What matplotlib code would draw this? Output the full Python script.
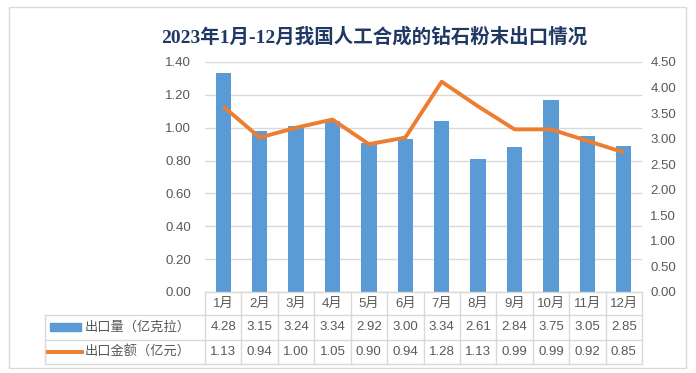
import matplotlib.pyplot as plt
import numpy as np
from matplotlib.lines import Line2D
from matplotlib.patches import Rectangle
import matplotlib.transforms as mtransforms

plt.rcParams['font.family'] = ['Liberation Sans', 'Noto Sans CJK SC', 'DejaVu Sans']

months = ["1月", "2月", "3月", "4月", "5月", "6月", "7月", "8月", "9月", "10月", "11月", "12月"]
volume = [4.28, 3.15, 3.24, 3.34, 2.92, 3.00, 3.34, 2.61, 2.84, 3.75, 3.05, 2.85]
amount = [1.13, 0.94, 1.00, 1.05, 0.90, 0.94, 1.28, 1.13, 0.99, 0.99, 0.92, 0.85]
volume_label = "出口量（亿克拉）"
amount_label = "出口金额（亿元）"
title = "2023年1月-12月我国人工合成的钻石粉末出口情况"

bar_color = "#5B9BD5"
line_color = "#ED7D31"
text_color = "#595959"
grid_color = "#D9D9D9"

W, H = 696, 373
fig = plt.figure(figsize=(W / 100, H / 100), dpi=100)

def fy(py):
    return (H - py) / H

def fx(px):
    return px / W

# outer chart border
fig.patches.append(Rectangle((fx(9), fy(368)), fx(686) - fx(9), fy(7) - fy(368),
                             transform=fig.transFigure, fill=False, edgecolor="#D9D9D9", lw=1))

x = np.arange(len(months))
ax = fig.add_axes([fx(205), fy(292), fx(642) - fx(205), fy(62) - fy(292)])
ax.set_xlim(-0.5, len(months) - 0.5)
ax.set_ylim(0, 1.4)
ax.set_yticks(np.arange(0, 1.41, 0.2))
ax.set_yticklabels([f"{v:.2f}" for v in np.arange(0, 1.41, 0.2)])
ax.grid(axis="y", color=grid_color, lw=1)
ax.set_axisbelow(True)
ax.set_xticks([])
ax.tick_params(axis="y", length=0, pad=10, labelsize=9.5, labelcolor=text_color)
for s in ax.spines.values():
    s.set_visible(False)

ax2 = ax.twinx()
ax2.bar(x, volume, width=0.42, color=bar_color)
ax2.set_ylim(0, 4.5)
ax2.set_yticks(np.arange(0, 4.51, 0.5))
ax2.set_yticklabels([f"{v:.2f}" for v in np.arange(0, 4.51, 0.5)])
ax2.tick_params(axis="y", length=0, pad=6, labelsize=9.5, labelcolor=text_color)
for s in ax2.spines.values():
    s.set_visible(False)

ax3 = ax.twinx()
ax3.plot(x, amount, color=line_color, lw=2.8, solid_capstyle="butt")
ax3.set_ylim(0, 1.4)
ax3.set_yticks([])
for s in ax3.spines.values():
    s.set_visible(False)

fig.text(fx(374), fy(37), title, ha="center", va="center", fontsize=14, fontweight="bold",
         color="#1F3864", family=['Liberation Serif', 'Noto Sans CJK SC'])

# data table
tr = mtransforms.blended_transform_factory(ax.transData, fig.transFigure)
ytop, y1, y2, ybot = fy(292), fy(315), fy(340), fy(364)
lk = dict(color=grid_color, lw=1, clip_on=False)
fig.add_artist(Line2D([-0.5, 11.5], [ytop, ytop], transform=tr, **lk))
fig.add_artist(Line2D([fx(45), fx(642)], [y1, y1], transform=fig.transFigure, **lk))
fig.add_artist(Line2D([fx(45), fx(642)], [y2, y2], transform=fig.transFigure, **lk))
fig.add_artist(Line2D([fx(45), fx(642)], [ybot, ybot], transform=fig.transFigure, **lk))
fig.add_artist(Line2D([fx(45), fx(45)], [y1, ybot], transform=fig.transFigure, **lk))
for i in range(len(months) + 1):
    fig.add_artist(Line2D([i - 0.5, i - 0.5], [ytop, ybot], transform=tr, **lk))

tk = dict(ha="center", va="center", fontsize=9.5, color=text_color, transform=tr)
for i, m in enumerate(months):
    fig.text(i, (ytop + y1) / 2, m, **tk)
    fig.text(i, (y1 + y2) / 2, f"{volume[i]:.2f}", **tk)
    fig.text(i, (y2 + ybot) / 2, f"{amount[i]:.2f}", **tk)

fig.patches.append(Rectangle((fx(50), fy(331)), fx(81) - fx(50), fy(323) - fy(331),
                             transform=fig.transFigure, color=bar_color))
fig.add_artist(Line2D([fx(48), fx(82)], [fy(352), fy(352)], transform=fig.transFigure,
                      color=line_color, lw=2.8))
fig.text(fx(85), (y1 + y2) / 2, volume_label, ha="left", va="center", fontsize=9.5, color=text_color)
fig.text(fx(85), (y2 + ybot) / 2, amount_label, ha="left", va="center", fontsize=9.5, color=text_color)

fig.savefig("out.png", dpi=100)
